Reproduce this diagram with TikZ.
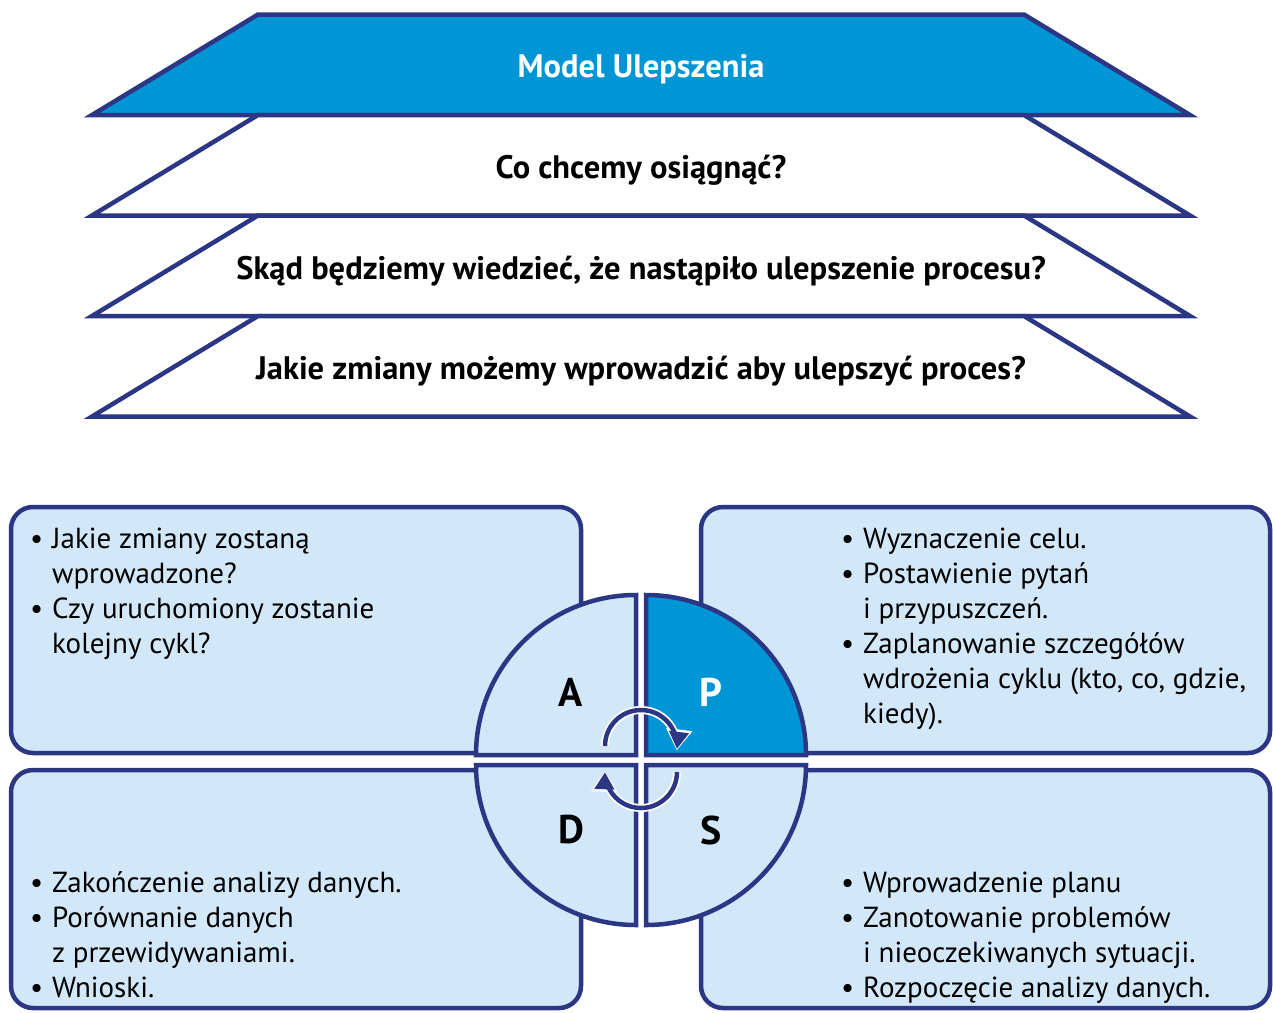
\documentclass[tikz,border=0pt]{standalone}
\usepackage{fontspec}
\setmainfont{PT Sans}
\usetikzlibrary{arrows.meta}
\definecolor{navy}{RGB}{43,54,132}
\definecolor{mblue}{RGB}{0,149,213}
\definecolor{lblue}{RGB}{210,232,248}
\newcommand{\bul}{\makebox[22pt][l]{\textbullet}}
\newcommand{\ind}{\hspace*{22pt}}

\begin{document}
\begin{tikzpicture}[x=1pt,y=-1pt,
		frame/.style={draw=navy,line width=4.5pt,line join=miter},
		box/.style={draw=navy,fill=lblue,line width=4.5pt,rounded corners=22pt},
		quad/.style={draw=navy,line width=4.5pt,line join=miter},
		head/.style={anchor=base,inner sep=0pt,font=\fontsize{32.5}{38}\selectfont\bfseries},
		txt/.style={anchor=base west,align=left,inner sep=0pt,font=\fontsize{29}{35}\selectfont},
		letter/.style={font=\fontsize{40}{44}\selectfont\bfseries},
		halo/.style={draw=white,line width=8pt,-{Triangle[length=21pt,width=25pt]}},
		cyc/.style={draw=navy,line width=4.5pt,shorten >=1.5pt,-{Triangle[length=17pt,width=19pt]}}]
	\useasboundingbox (0,0) rectangle (1273,1012);
	\foreach \i/\c in {0/mblue,1/white,2/white,3/white}
		\draw[frame,fill=\c] (258,14.5+100.5*\i) -- (1024,14.5+100.5*\i) -- (1190,115+100.5*\i) -- (92,115+100.5*\i) -- cycle;
	\node[head,text=white] (t0) at (641,77) {Model Ulepszenia};
	\node[head] (t1) at (641,178) {Co chcemy osiągnąć?};
	\node[head] (t2) at (641,279) {Skąd będziemy wiedzieć, że nastąpiło ulepszenie procesu?};
	\node[head] (t3) at (641,379) {Jakie zmiany możemy wprowadzić aby ulepszyć proces?};

	\draw[box] (11,507) rectangle (581,753);
	\draw[box] (701,507) rectangle (1270,753);
	\draw[box] (11,770) rectangle (581,1008);
	\draw[box] (701,770) rectangle (1270,1008);
	% base anchor sits on the last line
	\node[txt] (act) at (30,653) {\bul Jakie zmiany zostaną\\ \ind wprowadzone?\\ \bul Czy uruchomiony zostanie\\ \ind kolejny cykl?};
	\node[txt] (plan) at (841,723) {\bul Wyznaczenie celu.\\ \bul Postawienie pytań\\ \ind i przypuszczeń.\\ \bul Zaplanowanie szczegółów\\ \ind wdrożenia cyklu (kto, co, gdzie,\\ \ind kiedy).};
	\node[txt] (study) at (30,997) {\bul Zakończenie analizy danych.\\ \bul Porównanie danych\\ \ind z przewidywaniami.\\ \bul Wnioski.};
	\node[txt] (doit) at (841,997) {\bul Wprowadzenie planu\\ \bul Zanotowanie problemów\\ \ind i nieoczekiwanych sytuacji.\\ \bul Rozpoczęcie analizy danych.};

	\draw[quad,fill=lblue] (636,755) -- ++(-160,0) arc[start angle=180,end angle=270,radius=160] -- cycle;
	\draw[quad,fill=mblue] (646,755) -- ++(160,0) arc[start angle=0,end angle=-90,radius=160] -- cycle;
	\draw[quad,fill=lblue] (636,765) -- ++(-160,0) arc[start angle=180,end angle=90,radius=160] -- cycle;
	\draw[quad,fill=lblue] (646,765) -- ++(160,0) arc[start angle=0,end angle=90,radius=160] -- cycle;
	\node[letter] (a) at (571,692) {A};
	\node[letter,text=white] (p) at (711,692) {P};
	\node[letter] (d) at (571,830) {D};
	\node[letter] (s) at (711,830) {S};

	\draw[halo] (605,746) arc[start angle=180,end angle=367,radius=36];
	\draw[cyc] (605,746) arc[start angle=180,end angle=367,radius=36];
	\draw[halo] (677,772) arc[start angle=0,end angle=182,radius=36];
	\draw[cyc] (677,772) arc[start angle=0,end angle=182,radius=36];
\end{tikzpicture}
\end{document}
